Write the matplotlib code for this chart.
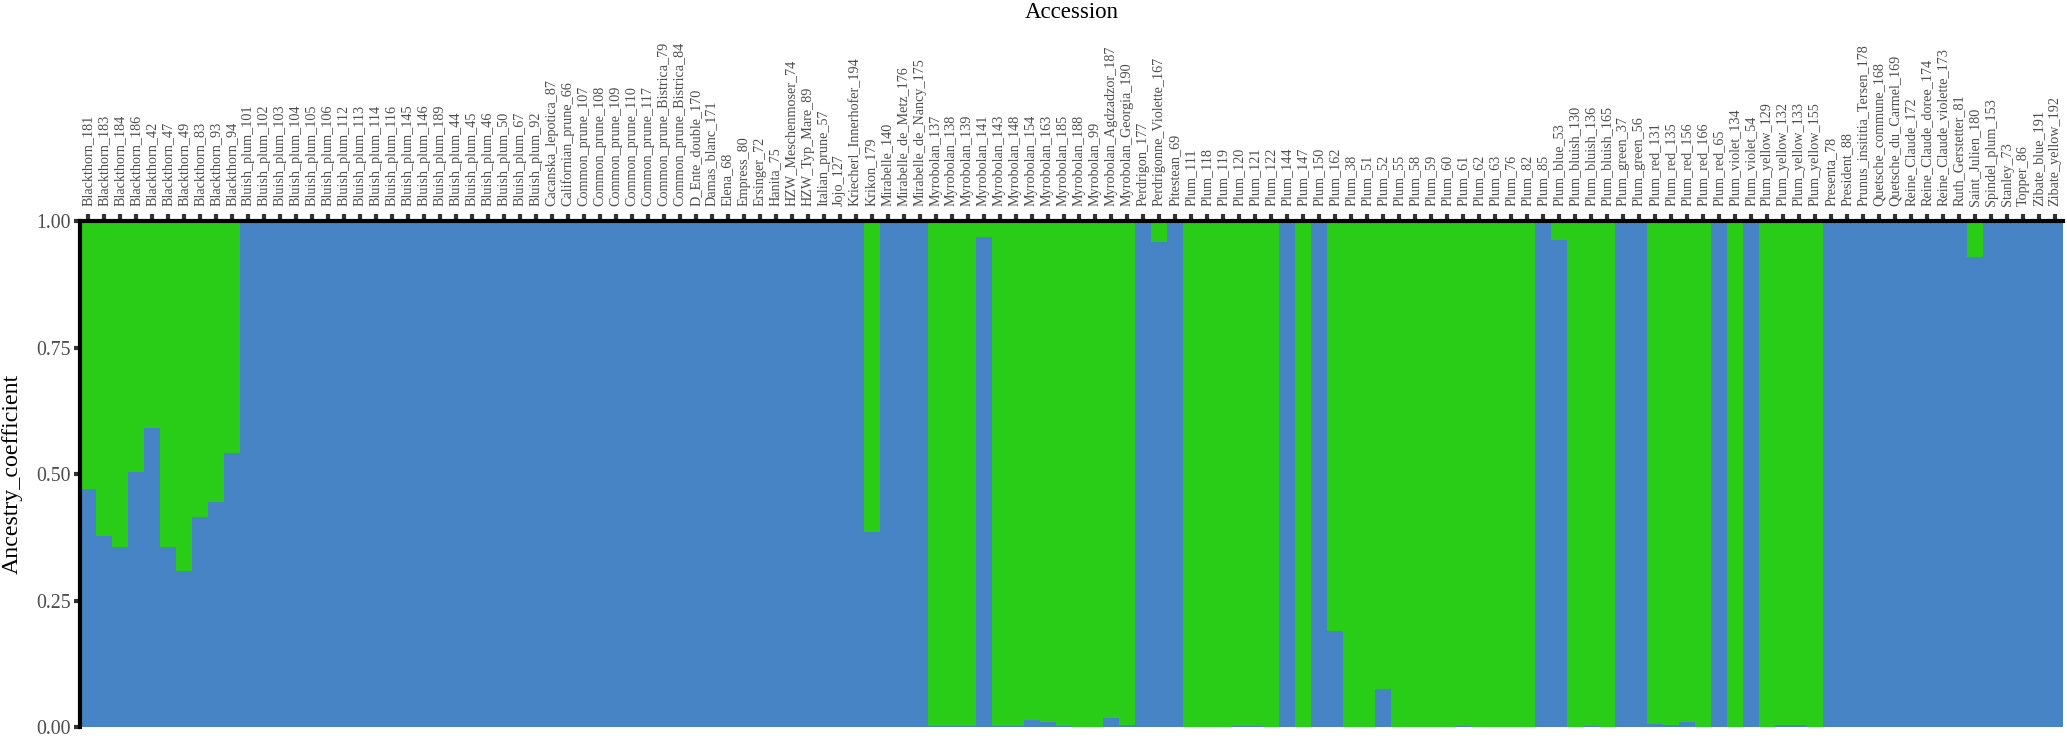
import matplotlib
matplotlib.use("Agg")
import matplotlib.pyplot as plt
import numpy as np

ACCESSIONS = [
    "Blackthorn_181", "Blackthorn_183", "Blackthorn_184", "Blackthorn_186", "Blackthorn_42",
    "Blackthorn_47", "Blackthorn_49", "Blackthorn_83", "Blackthorn_93", "Blackthorn_94",
    "Bluish_plum_101", "Bluish_plum_102", "Bluish_plum_103", "Bluish_plum_104", "Bluish_plum_105",
    "Bluish_plum_106", "Bluish_plum_112", "Bluish_plum_113", "Bluish_plum_114", "Bluish_plum_116",
    "Bluish_plum_145", "Bluish_plum_146", "Bluish_plum_189", "Bluish_plum_44", "Bluish_plum_45",
    "Bluish_plum_46", "Bluish_plum_50", "Bluish_plum_67", "Bluish_plum_92", "Cacanska_lepotica_87",
    "Californian_prune_66", "Common_prune_107", "Common_prune_108", "Common_prune_109",
    "Common_prune_110", "Common_prune_117", "Common_prune_Bistrica_79", "Common_prune_Bistrica_84",
    "D_Ente_double_170", "Damas_blanc_171", "Elena_68", "Empress_80", "Ersinger_72", "Hanita_75",
    "HZW_Meschenmoser_74", "HZW_Typ_Mare_89", "Italian_prune_57", "Jojo_127",
    "Kriecherl_Innerhofer_194", "Krikon_179", "Mirabelle_140", "Mirabelle_de_Metz_176",
    "Mirabelle_de_Nancy_175", "Myrobolan_137", "Myrobolan_138", "Myrobolan_139", "Myrobolan_141",
    "Myrobolan_143", "Myrobolan_148", "Myrobolan_154", "Myrobolan_163", "Myrobolan_185",
    "Myrobolan_188", "Myrobolan_99", "Myrobolan_Agdzadzor_187", "Myrobolan_Georgia_190",
    "Perdrigon_177", "Perdrigonne_Violette_167", "Pitestean_69", "Plum_111", "Plum_118",
    "Plum_119", "Plum_120", "Plum_121", "Plum_122", "Plum_144", "Plum_147", "Plum_150",
    "Plum_162", "Plum_38", "Plum_51", "Plum_52", "Plum_55", "Plum_58", "Plum_59", "Plum_60",
    "Plum_61", "Plum_62", "Plum_63", "Plum_76", "Plum_82", "Plum_85", "Plum_blue_53",
    "Plum_bluish_130", "Plum_bluish_136", "Plum_bluish_165", "Plum_green_37", "Plum_green_56",
    "Plum_red_131", "Plum_red_135", "Plum_red_156", "Plum_red_166", "Plum_red_65",
    "Plum_violet_134", "Plum_violet_54", "Plum_yellow_129", "Plum_yellow_132", "Plum_yellow_133",
    "Plum_yellow_155", "Presenta_78", "President_88", "Prunus_insititia_Tersen_178",
    "Quetsche_commune_168", "Quetsche_du_Carmel_169", "Reine_Claude_172", "Reine_Claude_doree_174",
    "Reine_Claude_violette_173", "Ruth_Gerstetter_81", "Saint_Julien_180", "Spindel_plum_153",
    "Stanley_73", "Topper_86", "Zibate_blue_191", "Zibate_yellow_192",
]

# ancestry coefficient of the blue cluster (bottom), green cluster on top
CLUSTER_BLUE = [
    0.470, 0.378, 0.357, 0.505, 0.592, 0.357, 0.308, 0.415, 0.446, 0.543,
    1.0, 1.0, 1.0, 1.0, 1.0, 1.0, 1.0, 1.0, 1.0, 1.0,
    1.0, 1.0, 1.0, 1.0, 1.0, 1.0, 1.0, 1.0, 1.0, 1.0,
    1.0, 1.0, 1.0, 1.0, 1.0, 1.0, 1.0, 1.0, 1.0, 1.0,
    1.0, 1.0, 1.0, 1.0, 1.0, 1.0, 1.0, 1.0, 1.0, 0.385,
    1.0, 1.0, 1.0, 0.003, 0.003, 0.003, 0.968, 0.002, 0.003, 0.014,
    0.010, 0.003, 0.0, 0.0, 0.018, 0.004, 1.0, 0.960, 1.0, 0.0,
    0.0, 0.0, 0.003, 0.003, 0.0, 1.0, 0.0, 1.0, 0.190, 0.0,
    0.0, 0.075, 0.0, 0.0, 0.0, 0.0, 0.003, 0.0, 0.0, 0.0,
    0.0, 1.0, 0.964, 0.0, 0.003, 0.0, 1.0, 1.0, 0.006, 0.005,
    0.011, 0.0, 1.0, 0.0, 1.0, 0.0, 0.004, 0.004, 0.0, 1.0,
    1.0, 1.0, 1.0, 1.0, 1.0, 1.0, 1.0, 1.0, 0.930, 1.0,
    1.0, 1.0, 1.0, 1.0,
]
CLUSTER_GREEN = [1.0 - v for v in CLUSTER_BLUE]

Y_TICKS = [0.0, 0.25, 0.5, 0.75, 1.0]
Y_TICK_LABELS = ["0.00", "0.25", "0.50", "0.75", "1.00"]

BLUE = "#4684C6"
GREEN = "#29CD17"
TICK_GREY = "#4D4D4D"

plt.rcParams["font.family"] = ["Liberation Serif", "DejaVu Serif"]

fig = plt.figure(figsize=(20.67, 7.39), dpi=100)
ax = fig.add_axes([80 / 2067, 1 - 727.3 / 739, (2063 - 80) / 2067, (727.3 - 221.3) / 739])

x = np.arange(len(ACCESSIONS))
ax.bar(x, CLUSTER_BLUE, width=1.0, color=BLUE, linewidth=0)
ax.bar(x, CLUSTER_GREEN, width=1.0, bottom=CLUSTER_BLUE, color=GREEN, linewidth=0)

ax.set_xlim(-0.5, len(ACCESSIONS) - 0.5)
ax.set_ylim(0, 1)

ax.xaxis.tick_top()
ax.xaxis.set_label_position("top")
ax.set_xticks(x)
ax.set_xticklabels(ACCESSIONS, rotation=90, fontsize=10.2, color=TICK_GREY)
ax.set_yticks(Y_TICKS)
ax.set_yticklabels(Y_TICK_LABELS, fontsize=14.3, color=TICK_GREY)
ax.tick_params(axis="x", length=5, width=3, color="#333333", pad=6)
ax.tick_params(axis="y", length=4, width=3, color="#333333", pad=2.5)

ax.set_xlabel("Accession", fontsize=16.5, color="black")
ax.xaxis.set_label_coords(0.5, (727.3 - 12.7) / 506)
ax.xaxis.label.set_va("center")
ax.set_ylabel("Ancestry_coefficient", fontsize=17.2, color="black")
ax.yaxis.set_label_coords(-(80 - 12) / 1983, 0.5)
ax.yaxis.label.set_va("center")

for side in ["bottom", "right"]:
    ax.spines[side].set_visible(False)
for side in ["top", "left"]:
    ax.spines[side].set_linewidth(3)
    ax.spines[side].set_color("black")

fig.savefig("out.png", dpi=100, facecolor="white")
